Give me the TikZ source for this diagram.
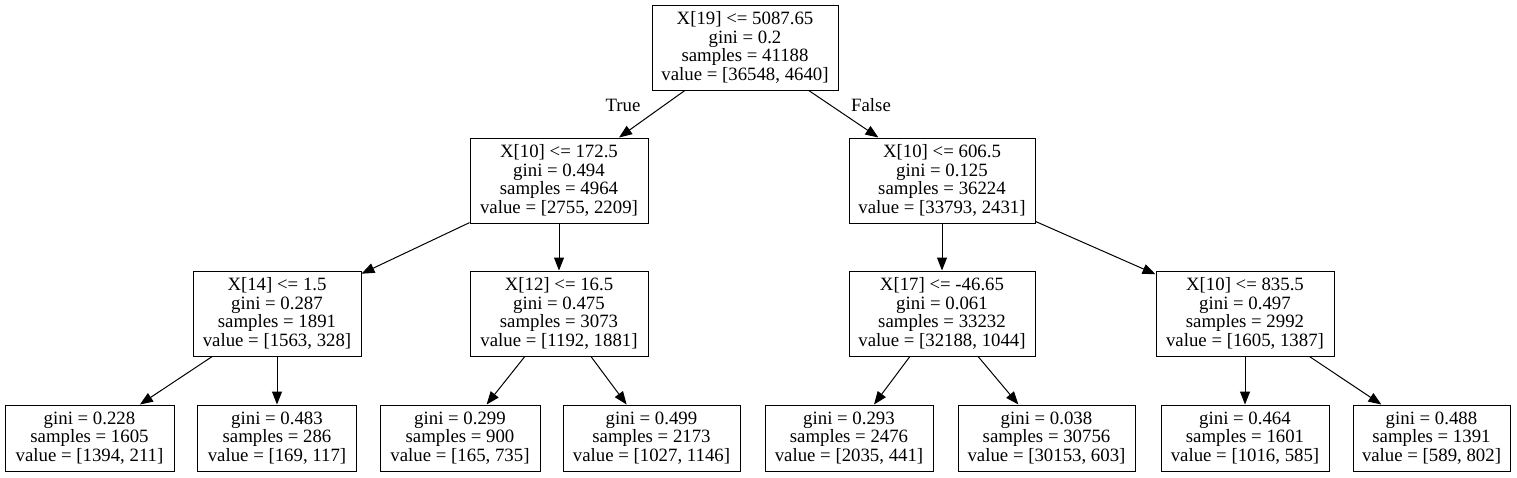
\documentclass[tikz,border=0pt]{standalone}
\usepackage{fontspec}
\setmainfont{Liberation Serif}
\usetikzlibrary{arrows.meta}
\tikzset{
  tnode/.style={draw=black, line width=1pt, inner sep=0pt, align=center,
    font=\fontsize{18.8}{18.8}\selectfont, minimum height=85pt},
  tleaf/.style={tnode, minimum height=66pt},
  tedge/.style={line width=1pt, -{Triangle[length=13pt,width=10pt]}},
  tlabel/.style={font=\fontsize{18.8}{18.8}\selectfont, inner sep=0pt}
}
\begin{document}
\begin{tikzpicture}[x=1pt,y=-1pt]
\useasboundingbox (0,0) rectangle (1517,477);
\node[tnode, minimum width=186pt] (root) at (745,47.5) {X[19] <= 5087.65\\gini = 0.2\\samples = 41188\\value = [36548, 4640]};
\node[tnode, minimum width=178pt] (l1l) at (559,180.5) {X[10] <= 172.5\\gini = 0.494\\samples = 4964\\value = [2755, 2209]};
\node[tnode, minimum width=186pt] (l1r) at (942,180.5) {X[10] <= 606.5\\gini = 0.125\\samples = 36224\\value = [33793, 2431]};
\node[tnode, minimum width=168pt] (l2a) at (277,313.5) {X[14] <= 1.5\\gini = 0.287\\samples = 1891\\value = [1563, 328]};
\node[tnode, minimum width=178pt] (l2b) at (559,313.5) {X[12] <= 16.5\\gini = 0.475\\samples = 3073\\value = [1192, 1881]};
\node[tnode, minimum width=186pt] (l2c) at (942,313.5) {X[17] <= -46.65\\gini = 0.061\\samples = 33232\\value = [32188, 1044]};
\node[tnode, minimum width=178pt] (l2d) at (1245,313.5) {X[10] <= 835.5\\gini = 0.497\\samples = 2992\\value = [1605, 1387]};
\node[tleaf, minimum width=169pt] (la) at (89.5,438) {gini = 0.228\\samples = 1605\\value = [1394, 211]};
\node[tleaf, minimum width=159pt] (lb) at (277,438) {gini = 0.483\\samples = 286\\value = [169, 117]};
\node[tleaf, minimum width=160pt] (lc) at (460,438) {gini = 0.299\\samples = 900\\value = [165, 735]};
\node[tleaf, minimum width=177pt] (ld) at (651.5,438) {gini = 0.499\\samples = 2173\\value = [1027, 1146]};
\node[tleaf, minimum width=168pt] (le) at (849,438) {gini = 0.293\\samples = 2476\\value = [2035, 441]};
\node[tleaf, minimum width=177pt] (lf) at (1046.5,438) {gini = 0.038\\samples = 30756\\value = [30153, 603]};
\node[tleaf, minimum width=168pt] (lg) at (1245,438) {gini = 0.464\\samples = 1601\\value = [1016, 585]};
\node[tleaf, minimum width=157pt] (lh) at (1431.5,438) {gini = 0.488\\samples = 1391\\value = [589, 802]};
\draw[tedge] (root) -- (l1l);
\draw[tedge] (root) -- (l1r);
\draw[tedge] (l1l) -- (l2a);
\draw[tedge] (l1l) -- (l2b);
\draw[tedge] (l1r) -- (l2c);
\draw[tedge] (l1r) -- (l2d);
\draw[tedge] (l2a) -- (la);
\draw[tedge] (l2a) -- (lb);
\draw[tedge] (l2b) -- (lc);
\draw[tedge] (l2b) -- (ld);
\draw[tedge] (l2c) -- (le);
\draw[tedge] (l2c) -- (lf);
\draw[tedge] (l2d) -- (lg);
\draw[tedge] (l2d) -- (lh);
\node[tlabel] (ltrue) at (623,105) {True};
\node[tlabel] (lfalse) at (871,105) {False};
\end{tikzpicture}
\end{document}
